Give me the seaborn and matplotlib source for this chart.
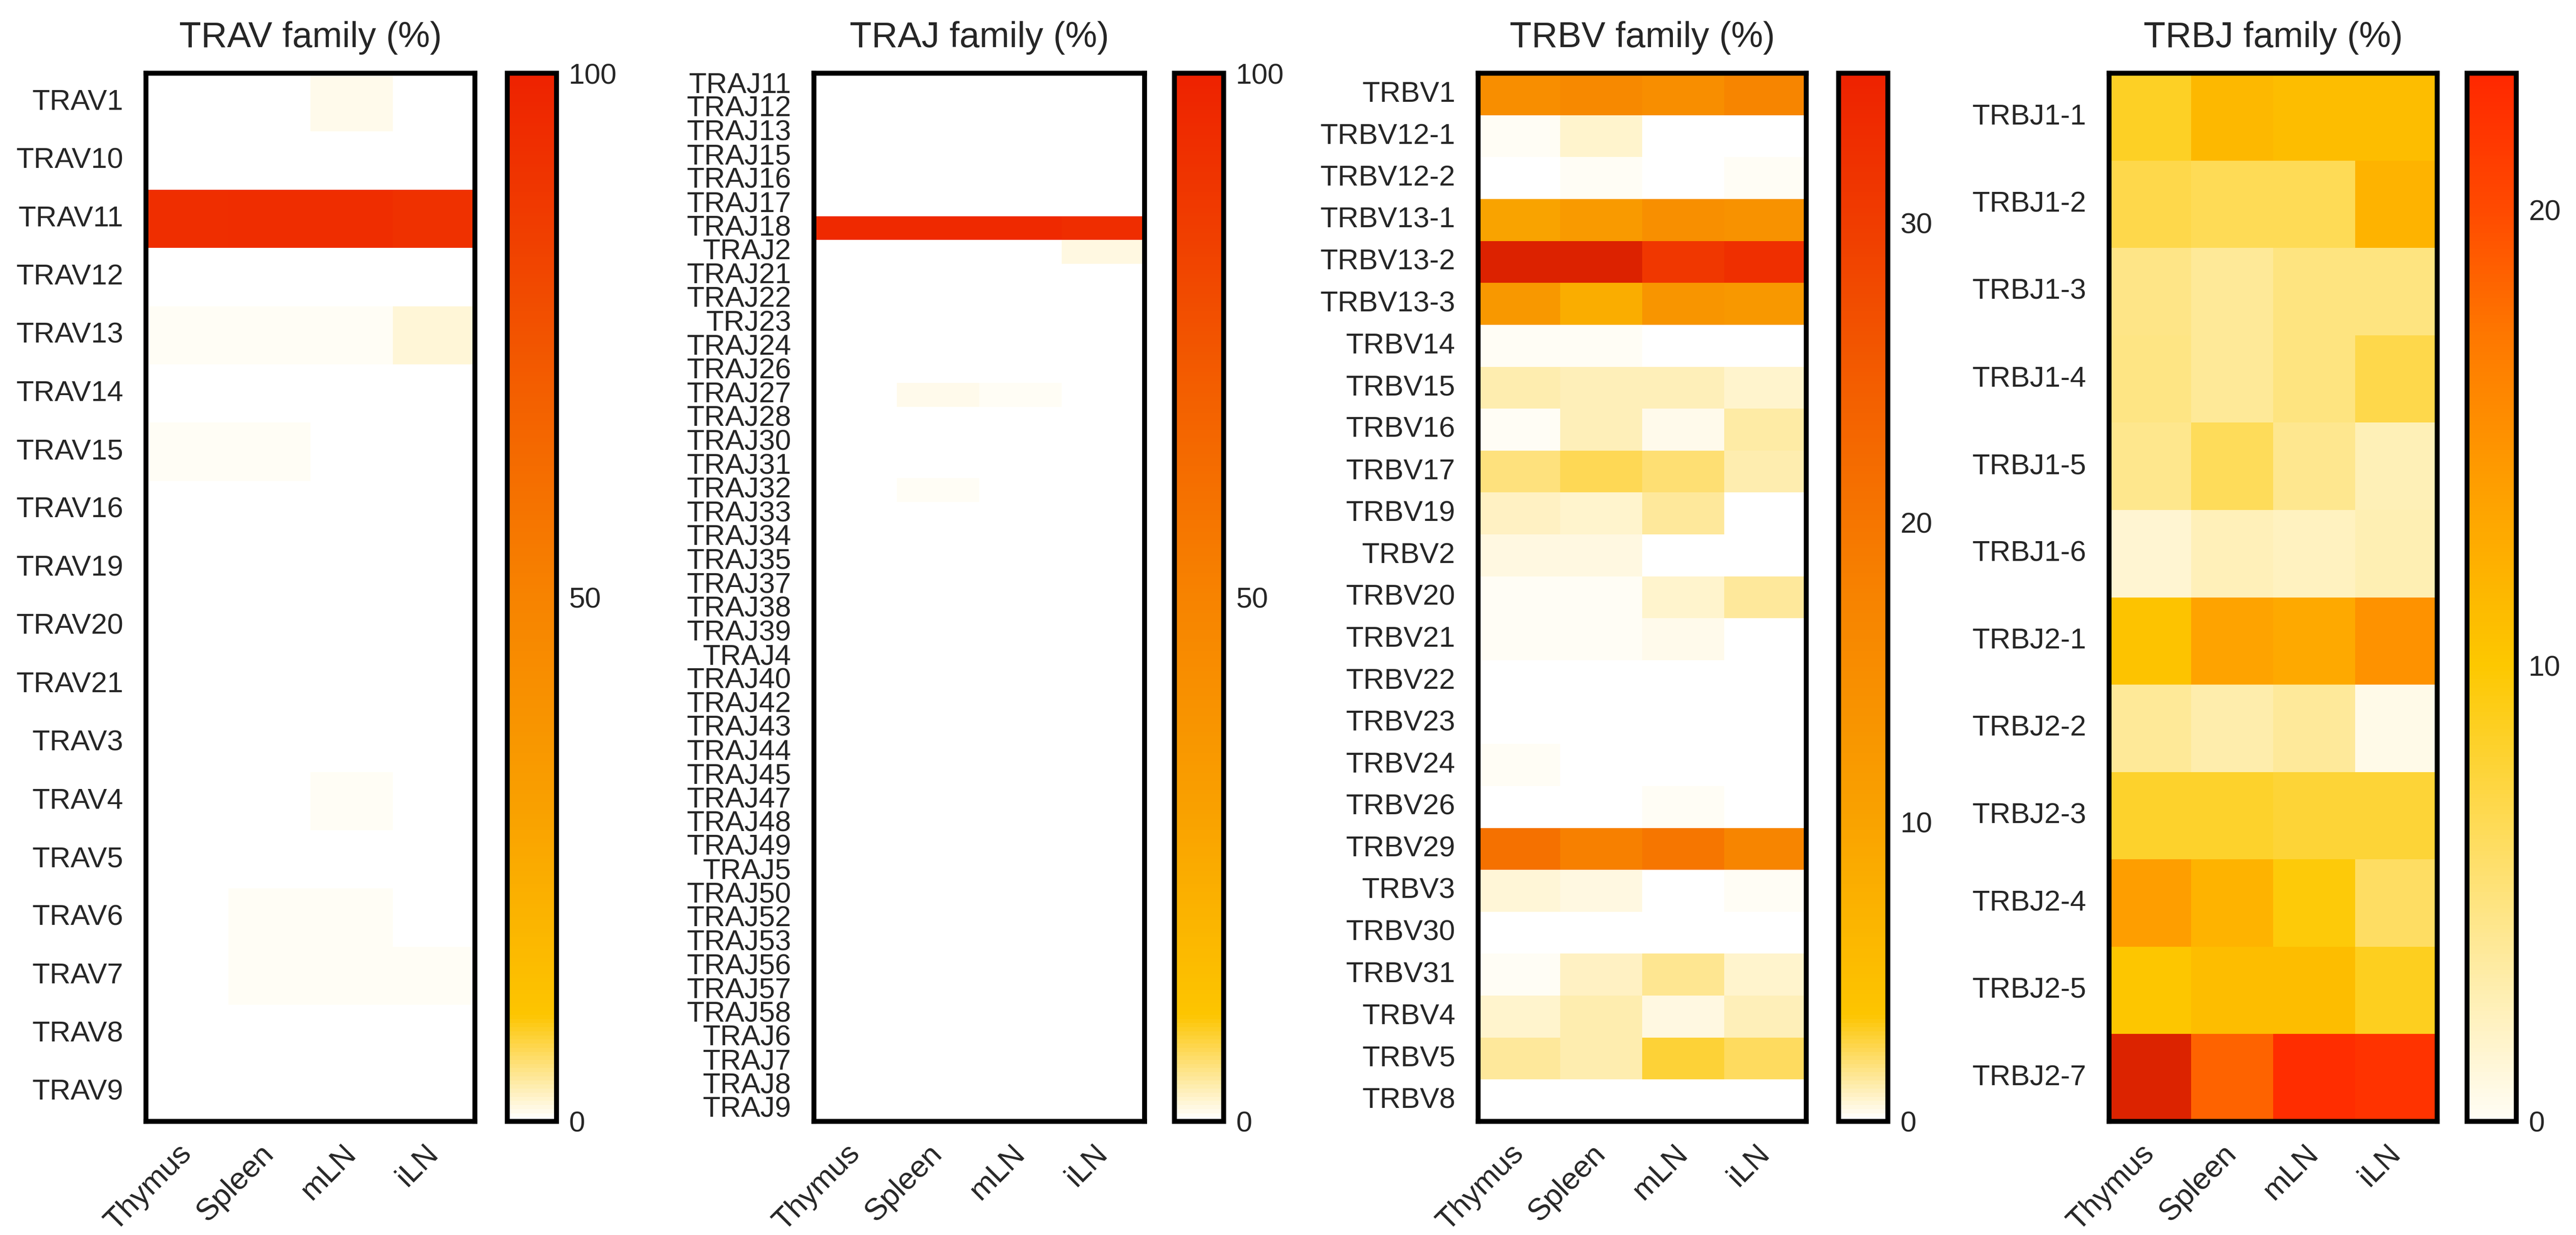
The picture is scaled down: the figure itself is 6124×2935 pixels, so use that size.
import numpy as np
import pandas as pd
import seaborn as sns
import matplotlib.pyplot as plt
from matplotlib.colors import LinearSegmentedColormap

tissues = ['Thymus', 'Spleen', 'mLN', 'iLN']

# TRAV family (%)
trav_genes = ['TRAV1', 'TRAV10', 'TRAV11', 'TRAV12', 'TRAV13', 'TRAV14', 'TRAV15',
              'TRAV16', 'TRAV19', 'TRAV20', 'TRAV21', 'TRAV3', 'TRAV4', 'TRAV5',
              'TRAV6', 'TRAV7', 'TRAV8', 'TRAV9']
trav_thymus = [0.2, 0.1, 93, 0.3, 0.4, 0.1, 0.5, 0.2, 0.1, 0.1, 0.1, 0.1, 0.2, 0.1, 0.1, 0.2, 0.1, 0.1]
trav_spleen = [0.2, 0.3, 94, 0.2, 0.6, 0.1, 0.5, 0.1, 0.1, 0.1, 0.3, 0.1, 0.1, 0.1, 0.4, 0.4, 0.1, 0.1]
trav_mln = [0.9, 0.3, 94, 0.2, 0.5, 0.1, 0.2, 0.1, 0.1, 0.1, 0.1, 0.1, 0.7, 0.1, 0.4, 0.4, 0.1, 0.2]
trav_iln = [0.1, 0.3, 92, 0.2, 1.8, 0.3, 0.3, 0.2, 0.2, 0.1, 0.2, 0.1, 0.1, 0.1, 0.3, 0.4, 0.1, 0.1]

# TRAJ family (%)
traj_genes = ['TRAJ11', 'TRAJ12', 'TRAJ13', 'TRAJ15', 'TRAJ16', 'TRAJ17', 'TRAJ18', 'TRAJ2',
              'TRAJ21', 'TRAJ22', 'TRJ23', 'TRAJ24', 'TRAJ26', 'TRAJ27', 'TRAJ28', 'TRAJ30',
              'TRAJ31', 'TRAJ32', 'TRAJ33', 'TRAJ34', 'TRAJ35', 'TRAJ37', 'TRAJ38', 'TRAJ39',
              'TRAJ4', 'TRAJ40', 'TRAJ42', 'TRAJ43', 'TRAJ44', 'TRAJ45', 'TRAJ47', 'TRAJ48',
              'TRAJ49', 'TRAJ5', 'TRAJ50', 'TRAJ52', 'TRAJ53', 'TRAJ56', 'TRAJ57', 'TRAJ58',
              'TRAJ6', 'TRAJ7', 'TRAJ8', 'TRAJ9']
traj_thymus = [0.1, 0.2, 0.1, 0.1, 0.1, 0.1, 96, 0.1, 0.1, 0.1, 0.1, 0.1, 0.1, 0.1, 0.2, 0.1,
               0.1, 0.1, 0.1, 0.1, 0.1, 0.1, 0.1, 0.1, 0.3, 0.1, 0.2, 0.1, 0.1, 0.1, 0.1, 0.1,
               0.1, 0.2, 0.1, 0.2, 0.1, 0.1, 0.1, 0.1, 0.1, 0.1, 0.1, 0.1]
traj_spleen = [0.2, 0.1, 0.1, 0.1, 0.1, 0.1, 96, 0.1, 0.3, 0.1, 0.1, 0.1, 0.1, 0.8, 0.1, 0.1,
               0.1, 0.4, 0.1, 0.1, 0.1, 0.1, 0.1, 0.2, 0.1, 0.1, 0.1, 0.2, 0.1, 0.1, 0.1, 0.2,
               0.2, 0.1, 0.1, 0.1, 0.1, 0.2, 0.2, 0.1, 0.1, 0.1, 0.1, 0.1]
traj_mln = [0.3, 0.1, 0.1, 0.1, 0.1, 0.3, 96, 0.1, 0.1, 0.1, 0.3, 0.1, 0.1, 0.7, 0.1, 0.1,
            0.1, 0.1, 0.1, 0.2, 0.1, 0.1, 0.2, 0.1, 0.1, 0.1, 0.2, 0.1, 0.1, 0.1, 0.1, 0.2,
            0.2, 0.1, 0.2, 0.1, 0.1, 0.1, 0.1, 0.1, 0.1, 0.1, 0.1, 0.1]
traj_iln = [0.2, 0.2, 0.3, 0.1, 0.1, 0.3, 94, 1.3, 0.1, 0.1, 0.1, 0.1, 0.1, 0.1, 0.1, 0.1,
            0.2, 0.1, 0.2, 0.1, 0.1, 0.1, 0.1, 0.1, 0.1, 0.2, 0.2, 0.1, 0.2, 0.1, 0.1, 0.1,
            0.1, 0.2, 0.1, 0.1, 0.1, 0.1, 0.1, 0.1, 0.2, 0.1, 0.1, 0.1]

# TRBV family (%)
trbv_genes = ['TRBV1', 'TRBV12-1', 'TRBV12-2', 'TRBV13-1', 'TRBV13-2', 'TRBV13-3', 'TRBV14',
              'TRBV15', 'TRBV16', 'TRBV17', 'TRBV19', 'TRBV2', 'TRBV20', 'TRBV21', 'TRBV22',
              'TRBV23', 'TRBV24', 'TRBV26', 'TRBV29', 'TRBV3', 'TRBV30', 'TRBV31', 'TRBV4',
              'TRBV5', 'TRBV8']
trbv_thymus = [15, 0.2, 0.0, 10, 37, 12.5, 0.2, 1.2, 0.2, 1.8, 0.9, 0.5, 0.2, 0.2, 0.0,
               0.0, 0.2, 0.1, 21, 0.6, 0.1, 0.2, 0.8, 1.5, 0.0]
trbv_spleen = [16, 0.8, 0.2, 12, 37, 8, 0.2, 1.0, 1.0, 2.4, 0.7, 0.5, 0.2, 0.2, 0.0,
               0.1, 0.0, 0.1, 18, 0.5, 0.0, 0.9, 1.1, 1.2, 0.0]
trbv_mln = [15, 0.0, 0.1, 14.5, 31, 13, 0.0, 1.0, 0.4, 2.0, 1.5, 0.0, 0.7, 0.4, 0.0,
            0.0, 0.0, 0.2, 20, 0.1, 0.0, 1.6, 0.5, 2.8, 0.0]
trbv_iln = [17, 0.0, 0.2, 14, 32.5, 12.5, 0.1, 0.7, 1.3, 1.2, 0.1, 0.0, 1.5, 0.0, 0.0,
            0.0, 0.0, 0.0, 17, 0.2, 0.0, 0.8, 1.0, 2.2, 0.0]

# TRBJ family (%)
trbj_genes = ['TRBJ1-1', 'TRBJ1-2', 'TRBJ1-3', 'TRBJ1-4', 'TRBJ1-5', 'TRBJ1-6',
              'TRBJ2-1', 'TRBJ2-2', 'TRBJ2-3', 'TRBJ2-4', 'TRBJ2-5', 'TRBJ2-7']
trbj_thymus = [8.5, 7.0, 4.5, 4.6, 4.3, 1.5, 10.5, 3.8, 8.2, 14, 10.2, 24.5]
trbj_spleen = [11.5, 6.5, 3.8, 3.8, 6.3, 2.5, 13.5, 3.0, 8.2, 12, 11, 18.5]
trbj_mln = [11, 6.5, 4.8, 4.8, 4.2, 2.2, 13, 3.7, 7.8, 9.7, 11, 22.5]
trbj_iln = [11, 12, 4.8, 7.0, 2.6, 2.7, 15, 0.6, 7.8, 6.0, 8.8, 22]

# colour scales (Prism-like white -> gold -> orange -> red)
cmap_a = LinearSegmentedColormap.from_list('wgor', [
    (0.0, '#FFFFFF'), (0.1, '#FDC500'), (0.3, '#F9A000'), (0.5, '#F78300'),
    (0.7, '#F35E00'), (0.85, '#F03E00'), (1.0, '#EE2200')])
cmap_a.set_over('#DC2200')
cmap_b = LinearSegmentedColormap.from_list('wgor2', [
    (0.0, '#FFFDF5'), (0.435, '#FDC800'), (0.6, '#FEA000'), (0.75, '#FE7800'),
    (0.87, '#FF4A00'), (1.0, '#FF2800')])
cmap_b.set_over('#DC2300')

sns.set_style('white')
plt.rcParams['font.family'] = ['Liberation Sans', 'DejaVu Sans']

fig = plt.figure(figsize=(6124 / 300, 2935 / 300), dpi=300)

bottom, height = 0.092, 0.8487
cb_w = 0.0191
LW = 2.8
FS = 16.5

panels = [
    (trav_genes, [trav_thymus, trav_spleen, trav_mln, trav_iln], 'TRAV family (%)', 100, [0, 50, 100], cmap_a, 0.0567, 0.1277, 0.1969),
    (traj_genes, [traj_thymus, traj_spleen, traj_mln, traj_iln], 'TRAJ family (%)', 100, [0, 50, 100], cmap_a, 0.3160, 0.1283, 0.4559),
    (trbv_genes, [trbv_thymus, trbv_spleen, trbv_mln, trbv_iln], 'TRBV family (%)', 35, [0, 10, 20, 30], cmap_a, 0.5738, 0.1274, 0.7138),
    (trbj_genes, [trbj_thymus, trbj_spleen, trbj_mln, trbj_iln], 'TRBJ family (%)', 23, [0, 10, 20], cmap_b, 0.8187, 0.1274, 0.9577),
]

for genes, cols, title, vmax, ticks, cmap, left, width, cb_left in panels:
    df = pd.DataFrame(dict(zip(tissues, cols)), index=genes)
    ax = fig.add_axes([left, bottom, width, height])
    cax = fig.add_axes([cb_left, bottom, cb_w, height])
    sns.heatmap(df, ax=ax, cbar_ax=cax, cmap=cmap, vmin=0, vmax=vmax,
                cbar_kws={'ticks': ticks})
    for s in ax.spines.values():
        s.set_visible(True)
        s.set_linewidth(LW)
        s.set_color('black')
    ax.set_title(title, fontsize=20.5, pad=15)
    ax.tick_params(axis='both', length=0)
    ax.tick_params(axis='y', pad=13)
    ax.tick_params(axis='x', pad=16)
    ax.set_yticklabels(genes, rotation=0, fontsize=FS)
    ax.set_xticklabels(tissues, rotation=45, ha='right', va='center',
                       rotation_mode='anchor', fontsize=17.5)
    cbar = ax.collections[0].colorbar
    cbar.outline.set_linewidth(LW)
    cbar.outline.set_edgecolor('black')
    cax.tick_params(direction='in', length=4.5, width=1.5, left=True, right=True,
                    labelleft=False, labelright=True, labelsize=FS, pad=7)

fig.savefig('out.png', dpi=300)
